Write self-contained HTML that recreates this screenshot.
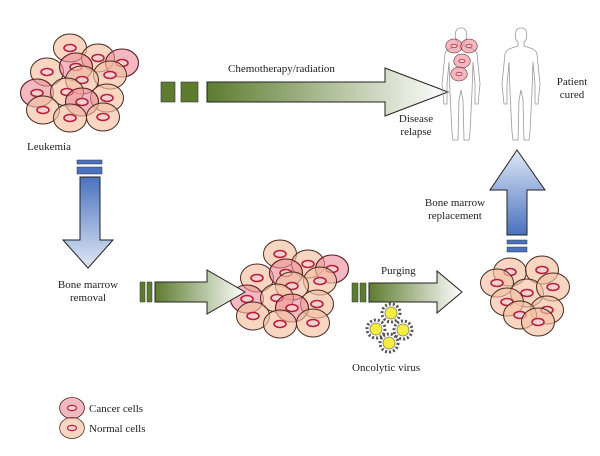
<!DOCTYPE html>
<html><head><style>html,body{margin:0;padding:0;background:#fff}svg{display:block}text{font-family:"Liberation Serif",serif;font-size:11px;fill:#222}</style></head><body>
<svg width="600" height="456" viewBox="0 0 600 456" xmlns="http://www.w3.org/2000/svg">
<defs>
<linearGradient id="gh" x1="0" x2="1" y1="0" y2="0"><stop offset="0" stop-color="#5d7c30"/><stop offset="1" stop-color="#ffffff"/></linearGradient>
<linearGradient id="gv" x1="0" x2="0" y1="0" y2="1"><stop offset="0" stop-color="#4a72bf"/><stop offset="1" stop-color="#dfe8f6"/></linearGradient>
<linearGradient id="gu" x1="0" x2="0" y1="1" y2="0"><stop offset="0" stop-color="#4a72bf"/><stop offset="1" stop-color="#dfe8f6"/></linearGradient>
<g id="N"><ellipse rx="16.5" ry="14" fill="#f5c0a2" fill-opacity="0.65" stroke="#4a2a22" stroke-width="1"/><ellipse rx="6" ry="3.5" fill="#f6d0d0" stroke="#b8203a" stroke-width="1.6"/></g>
<g id="C"><ellipse rx="16.5" ry="14" fill="#ec8a96" fill-opacity="0.6" stroke="#5a1a22" stroke-width="1.1"/><ellipse rx="6" ry="3.5" fill="#f6d0d0" stroke="#b8203a" stroke-width="1.6"/></g>
<g id="V"><circle r="9" fill="none" stroke="#555" stroke-width="3" stroke-dasharray="2 2"/><circle r="6" fill="#f4ee40" stroke="#777" stroke-width="0.8"/></g>
<g id="cl">
<use href="#N" x="70" y="48"/><use href="#N" x="98" y="58"/><use href="#C" x="122" y="63"/>
<use href="#N" x="47" y="72"/><use href="#C" x="76" y="67"/><use href="#N" x="110" y="75"/>
<use href="#N" x="82" y="80"/><use href="#C" x="37" y="93"/><use href="#N" x="67" y="92"/>
<use href="#N" x="107" y="98"/><use href="#C" x="82" y="102"/><use href="#N" x="43" y="110"/>
<use href="#N" x="70" y="118"/><use href="#N" x="103" y="117"/>
</g>
</defs>
<use href="#cl"/>
<use href="#cl" transform="translate(210,206)"/>
<use href="#N" x="510" y="272"/><use href="#N" x="542" y="270"/><use href="#N" x="497" y="283"/>
<use href="#N" x="527" y="293"/><use href="#N" x="553" y="287"/><use href="#N" x="507" y="302"/>
<use href="#N" x="547" y="310"/><use href="#N" x="520" y="315"/><use href="#N" x="538" y="322"/>

<text x="27" y="150">Leukemia</text>
<rect x="161" y="82" width="14" height="20" fill="#5d7c30" stroke="#333" stroke-width="0.6"/>
<rect x="181" y="82" width="17" height="20" fill="#5d7c30" stroke="#333" stroke-width="0.6"/>
<path d="M207 82 H385 V68 L448 92 L385 116 V102 H207 Z" fill="url(#gh)" stroke="#222" stroke-width="1"/>
<text x="228" y="72">Chemotherapy/radiation</text>
<rect x="77" y="160" width="25" height="4" fill="#4a72bf" stroke="#333" stroke-width="0.5"/>
<rect x="77" y="167" width="25" height="7" fill="#4a72bf" stroke="#333" stroke-width="0.5"/>
<path d="M80 177 H100 V240 H113 L88 268 L63 240 H80 Z" fill="url(#gv)" stroke="#222" stroke-width="1"/>
<text x="88" y="288" text-anchor="middle">Bone marrow</text>
<text x="88" y="301" text-anchor="middle">removal</text>
<rect x="140" y="282" width="5" height="20" fill="#5d7c30" stroke="#333" stroke-width="0.5"/>
<rect x="147" y="282" width="5" height="20" fill="#5d7c30" stroke="#333" stroke-width="0.5"/>
<path d="M155 282 H207 V270 L245 292 L207 314 V302 H155 Z" fill="url(#gh)" stroke="#222" stroke-width="1"/>
<rect x="352" y="283" width="6" height="19" fill="#5d7c30" stroke="#333" stroke-width="0.5"/>
<rect x="360" y="283" width="6" height="19" fill="#5d7c30" stroke="#333" stroke-width="0.5"/>
<path d="M369 283 H437 V271 L462 292 L437 313 V302 H369 Z" fill="url(#gh)" stroke="#222" stroke-width="1"/>
<text x="381" y="274">Purging</text>
<use href="#V" x="391" y="313"/><use href="#V" x="376" y="329"/><use href="#V" x="403" y="330"/><use href="#V" x="389" y="343"/>
<text x="352" y="371">Oncolytic virus</text>
<rect x="507" y="240" width="20" height="4" fill="#4a72bf" stroke="#333" stroke-width="0.5"/>
<rect x="507" y="247" width="20" height="5" fill="#4a72bf" stroke="#333" stroke-width="0.5"/>
<path d="M507 235 V190 H490 L517 150 L545 190 H527 V235 Z" fill="url(#gu)" stroke="#222" stroke-width="1"/>
<text x="455" y="206" text-anchor="middle">Bone marrow</text>
<text x="455" y="219" text-anchor="middle">replacement</text>
<g fill="none" stroke="#999" stroke-width="0.8">
<path id="hm" d="M460 28 c-6 0 -6 12 -2 14 v4 c-6 2 -12 3 -13 8 l-3 30 l2 20 l3 0 l0 -20 l2 -22 l1 30 l2 40 l1 8 h5 l1 -40 l2 -10 l2 10 l1 40 h5 l1 -8 l2 -40 l1 -30 l2 22 l0 20 l3 0 l2 -20 l-3 -30 c-1 -5 -7 -6 -13 -8 v-4 c4 -2 4 -14 -2 -14 z"/>
<use href="#hm" x="60"/>
</g>
<g stroke-width="2">
<use href="#C" transform="translate(454,46) scale(0.5)"/>
<use href="#C" transform="translate(469,46) scale(0.5)"/>
<use href="#C" transform="translate(462,61) scale(0.5)"/>
<use href="#C" transform="translate(459,74) scale(0.5)"/>
</g>
<text x="416" y="122" text-anchor="middle">Disease</text>
<text x="416" y="135" text-anchor="middle">relapse</text>
<text x="572" y="85" text-anchor="middle">Patient</text>
<text x="572" y="98" text-anchor="middle">cured</text>
<use href="#C" transform="translate(72,408) scale(0.75)"/>
<use href="#N" transform="translate(72,428) scale(0.75)"/>
<text x="89" y="412">Cancer cells</text>
<text x="89" y="432">Normal cells</text>
</svg>
</body></html>
